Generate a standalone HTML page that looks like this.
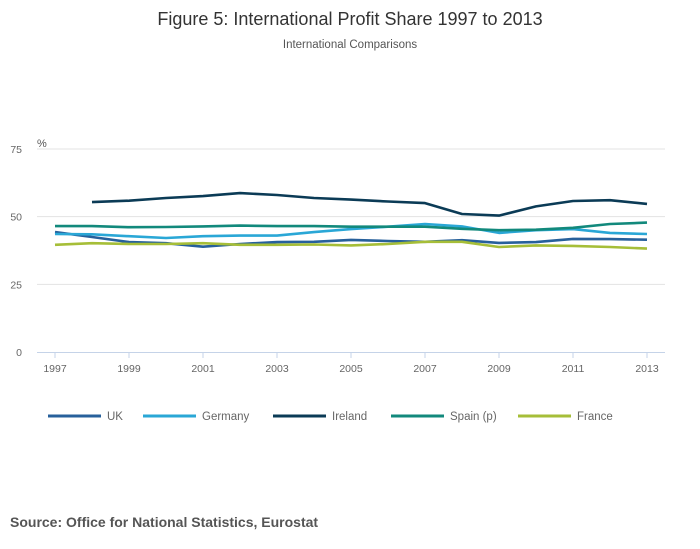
<!DOCTYPE html>
<html><head><meta charset="utf-8"><style>
body{margin:0;background:#fff;font-family:"Liberation Sans",sans-serif;}
svg{display:block}
</style></head><body>
<svg width="700" height="549" viewBox="0 0 700 549">
<text x="350" y="25" text-anchor="middle" font-size="18" fill="#333">Figure 5: International Profit Share 1997 to 2013</text>
<text x="350" y="48" text-anchor="middle" font-size="11.5" fill="#555">International Comparisons</text>
<text x="37" y="147" font-size="11" fill="#555">%</text>
<g id="grid"></g><g id="xaxis"></g><g id="series"></g><g id="legend"></g>
<text x="10" y="527" font-size="14" font-weight="bold" fill="#555">Source: Office for National Statistics, Eurostat</text>
</svg>
<script>
const years=[1997,1998,1999,2000,2001,2002,2003,2004,2005,2006,2007,2008,2009,2010,2011,2012,2013];
const yTicks=[0,25,50,75];
const xTicks=[1997,1999,2001,2003,2005,2007,2009,2011,2013];
const uk=[44.3,42.5,40.6,40.2,38.9,39.9,40.6,40.7,41.4,41.0,40.7,41.3,40.3,40.6,41.8,41.7,41.5];
const germany=[43.6,43.5,42.8,42.1,42.8,43.0,43.0,44.3,45.4,46.3,47.3,46.4,44.0,45.0,45.4,44.0,43.6];
const ireland=[null,55.4,55.9,56.9,57.6,58.7,58.0,56.9,56.3,55.6,55.0,51.0,50.4,53.8,55.8,56.1,54.7];
const spain=[46.5,46.5,46.1,46.2,46.4,46.7,46.5,46.5,46.3,46.3,46.3,45.5,45.0,45.2,45.9,47.3,47.8];
const france=[39.6,40.2,39.9,39.9,40.2,39.6,39.6,39.7,39.4,39.9,40.7,40.7,38.8,39.4,39.2,38.8,38.2];
const seriesNames=["UK","Germany","Ireland","Spain (p)","France"];
const seriesColors=["#27609b","#2aa7d6","#0b3b56","#12897c","#a6be38"];
const allSeries=[uk,germany,ireland,spain,france];
const NS="http://www.w3.org/2000/svg";
const X=y=>55+(y-1997)*37;
const Y=v=>352-v*203/75;
function mk(t,a,p){const e=document.createElementNS(NS,t);for(const k in a)e.setAttribute(k,a[k]);p.appendChild(e);return e;}
const grid=document.getElementById('grid');
yTicks.forEach(t=>{
  if(t>0){const l=mk('line',{x1:37,x2:665,y1:Y(t),y2:Y(t),stroke:'#e3e3e3','stroke-width':1},grid);
  
  }
  const tx=mk('text',{x:22,y:Y(t)+4,'text-anchor':'end','font-size':10.5,fill:'#666'},grid);tx.textContent=t;
  
  
});
const xa=document.getElementById('xaxis');
const ax=mk('line',{x1:37,x2:665,y1:352.5,y2:352.5,stroke:'#c5d3e8','stroke-width':1},xa);


xTicks.forEach(t=>{
  const tk=mk('line',{x1:X(t),x2:X(t),y1:352,y2:358,stroke:'#c5d3e8'},xa);
  
  
  const tx=mk('text',{x:X(t),y:372,'text-anchor':'middle','font-size':10.5,fill:'#666'},xa);tx.textContent=t;
  
  
});
const sg=document.getElementById('series');
allSeries.forEach((s,i)=>{
  let d='';let pen=false;
  s.forEach((v,j)=>{if(v==null){pen=false;return;}d+=(pen?'L':'M')+X(years[j])+','+Y(v).toFixed(1);pen=true;});
  const p=mk('path',{d:d,fill:'none',stroke:seriesColors[i],'stroke-width':2.6,'stroke-linejoin':'round'},sg);
  
  
});
const lg=document.getElementById('legend');
const lx=[48,143,273,391,518];
seriesNames.forEach((n,i)=>{
  const g=mk('g',{},lg);
  
  
  mk('line',{x1:lx[i],x2:lx[i]+53,y1:416,y2:416,stroke:seriesColors[i],'stroke-width':3},g);
  const t=mk('text',{x:lx[i]+59,y:420,'font-size':11.5,fill:'#666'},g);t.textContent=n;
});
</script>
</body></html>
